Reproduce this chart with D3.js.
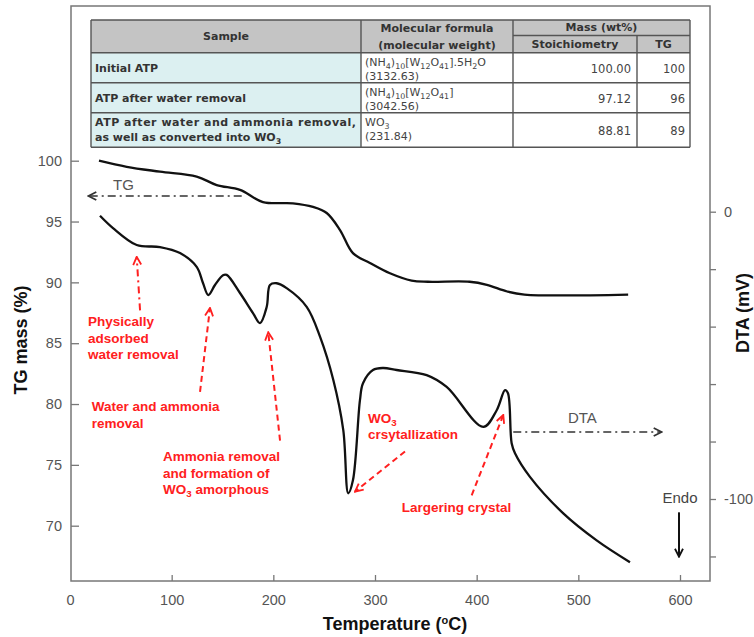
<!DOCTYPE html>
<html>
<head>
<meta charset="utf-8">
<script src="https://cdn.jsdelivr.net/npm/d3@7"></script>
<style>
  body { margin: 0; background: #fff; }
  svg { display: block; font-family: "Liberation Sans", Arial, sans-serif; }
</style>
</head>
<body>
<script>
// TG curve (temperature in °C, mass in %)
var tgTemp = [28.5, 55.8, 88.5, 124.6, 144.3, 167.2, 189.8, 219.3, 239, 252.5, 265.6, 278.3, 295, 314.7, 336, 352, 393, 410, 430, 447, 549];
var tgMass = [100, 99.5, 99.1, 98.7, 98.0, 97.6, 96.6, 96.5, 96.2, 95.7, 94.3, 92.4, 91.6, 90.75, 90.15, 90.05, 90.05, 89.8, 89.25, 89.0, 89.0];

// DTA curve (temperature in °C, signal in mV)
var dtaTemp = [29.5, 42.3, 65.6, 88.5, 108.2, 124.6, 130.8, 136, 142.6, 150.5, 154.1, 167.2, 180, 186.9, 193.5, 196.7, 203.3, 213.1, 232.8, 246, 259, 268.8, 273.7, 278.3, 285.2, 288.2, 298, 307.9, 321.3, 350.8, 370.5, 406.5, 419.7, 427.9, 430.8, 434.4, 437.7, 452.4, 485.2, 518, 550.8];
var dtaSignal = [-1.4, -5.7, -11.6, -12.3, -14.4, -19.2, -24.8, -29.0, -25.5, -22.1, -22.0, -28.3, -35.3, -38.8, -33.1, -25.5, -24.9, -26.6, -33.1, -43.6, -58.6, -76.0, -98.0, -93.5, -65.6, -59.7, -55.1, -54.4, -55.1, -56.9, -61.0, -74.9, -69.1, -62.1, -63.2, -80.6, -84.1, -92.3, -105.0, -114.4, -122.0];

// axis ticks
var xTicks = [0, 100, 200, 300, 400, 500, 600];
var tgTicks = [70, 75, 80, 85, 90, 95, 100];
var dtaTicks = [0, -20, -40, -60, -80, -100, -120];
var dtaTickLabels = {"0": "0", "-100": "-100"};

// table
var sampleNames = [["Initial ATP"], ["ATP after water removal"], ["ATP after water and ammonia removal,", "as well as converted into WO_{3}"]];
var formulas = ["(NH_{4})_{10}[W_{12}O_{41}].5H_{2}O", "(NH_{4})_{10}[W_{12}O_{41}]", "WO_{3}"];
var molWeights = ["(3132.63)", "(3042.56)", "(231.84)"];
var stoichMass = ["100.00", "97.12", "88.81"];
var tgMassTable = ["100", "96", "89"];

// annotations, [temperature, TG %]
var redNotes = [
  {lines: ["Physically", "adsorbed", "water removal"], at: [17.7, 86.4], tail: [68.9, 87.7], head: [65.6, 92.1], dash: "7,4,2,4"},
  {lines: ["Water and ammonia", "removal"], at: [21.3, 79.4], tail: [127.9, 81.0], head: [137.7, 87.9], dash: "6,4"},
  {lines: ["Ammonia removal", "and formation of", "WO_{3} amorphous"], at: [91.5, 75.3], tail: [206.6, 77.0], head: [195, 85.9], dash: "6,4"},
  {lines: ["WO_{3}", "crsytallization"], at: [293.1, 78.45], tail: [329.5, 76.1], head: [280.3, 72.8], dash: "6,4"},
  {lines: ["Largering crystal"], at: [326.3, 71.16], tail: [395.1, 72.5], head: [426.2, 79.1], dash: "6,4"}
];

var W = 754, H = 637;
var x = d3.scaleLinear().domain([0, 600]).range([70, 680]);
var yTG = d3.scaleLinear().domain([70, 100]).range([525.7, 160.7]);
var yDTA = d3.scaleLinear().domain([-100, 0]).range([499, 211.7]);
var frame = {left: 71, right: 710, top: 6, bottom: 581};

var svg = d3.select("body").append("svg").attr("width", W).attr("height", H);

var defs = svg.append("defs");
function chevron(id, color) {
  defs.append("marker").attr("id", id)
    .attr("viewBox", "0 0 10 10").attr("refX", 9).attr("refY", 5)
    .attr("markerWidth", 10).attr("markerHeight", 10)
    .attr("markerUnits", "userSpaceOnUse").attr("orient", "auto")
    .append("path").attr("d", "M1,1 L9,5 L1,9")
    .attr("fill", "none").attr("stroke", color).attr("stroke-width", 1.8);
}
chevron("redArrow", "#ff2020");
chevron("blackArrow", "#333");
chevron("endoArrow", "#111");

// subscript helper: "WO_{3}" -> WO + sub 3
function rich(textSel, str) {
  var parts = str.split(/_\{([^}]*)\}/);
  var shift = 0;
  parts.forEach(function(p, i) {
    if (p === "") return;
    if (i % 2 === 1) {
      textSel.append("tspan").attr("dy", 3 - shift).attr("font-size", "0.72em").text(p);
      shift = 3;
    } else {
      var ts = textSel.append("tspan").text(p);
      if (shift) ts.attr("dy", -shift);
      shift = 0;
    }
  });
}

// frame
svg.append("rect")
  .attr("x", frame.left).attr("y", frame.top)
  .attr("width", frame.right - frame.left).attr("height", frame.bottom - frame.top)
  .attr("fill", "none").attr("stroke", "#777").attr("stroke-width", 1.5);

// axes
var axisColor = "#777", labelColor = "#555";
var gx = svg.append("g").attr("transform", "translate(0," + frame.bottom + ")")
  .call(d3.axisBottom(x).tickValues(xTicks).tickSize(-6).tickPadding(14));
var gl = svg.append("g").attr("transform", "translate(" + frame.left + ",0)")
  .call(d3.axisLeft(yTG).tickValues(tgTicks).tickSize(-8).tickPadding(9));
var gr = svg.append("g").attr("transform", "translate(" + frame.right + ",0)")
  .call(d3.axisRight(yDTA).tickValues(dtaTicks).tickSize(6).tickPadding(8)
    .tickFormat(function(d) { return dtaTickLabels[String(d)] || ""; }));
[gx, gl, gr].forEach(function(g) {
  g.select(".domain").remove();
  g.selectAll(".tick line").attr("stroke", axisColor).attr("stroke-width", 1.3);
  g.selectAll(".tick text").attr("fill", labelColor).attr("font-size", 14.5)
    .attr("font-family", "Liberation Sans, Arial, sans-serif");
});
gx.selectAll(".tick").filter(function(d) { return d === 0; }).select("line").remove();
gr.selectAll(".tick text").filter(function() { return this.textContent === ""; }).remove();

// axis titles
svg.append("text").attr("transform", "translate(27,340) rotate(-90)")
  .attr("text-anchor", "middle").attr("font-size", 18).attr("font-weight", "bold").attr("fill", "#111")
  .text("TG mass (%)");
svg.append("text").attr("transform", "translate(749,313) rotate(-90)")
  .attr("text-anchor", "middle").attr("font-size", 18).attr("font-weight", "bold").attr("fill", "#111")
  .text("DTA (mV)");
var xt = svg.append("text").attr("x", 395).attr("y", 630)
  .attr("text-anchor", "middle").attr("font-size", 18).attr("font-weight", "bold").attr("fill", "#111");
xt.append("tspan").text("Temperature (");
xt.append("tspan").attr("dy", -6).attr("font-size", 11).text("o");
xt.append("tspan").attr("dy", 6).text("C)");

// curves
var tgData = tgTemp.map(function(t, i) { return [t, tgMass[i]]; });
var dtaData = dtaTemp.map(function(t, i) { return [t, dtaSignal[i]]; });
svg.append("path").datum(tgData)
  .attr("d", d3.line().curve(d3.curveCatmullRom.alpha(0.5))
    .x(function(d) { return x(d[0]); }).y(function(d) { return yTG(d[1]); }))
  .attr("fill", "none").attr("stroke", "#111").attr("stroke-width", 2.3).attr("stroke-linejoin", "round");
svg.append("path").datum(dtaData)
  .attr("d", d3.line().curve(d3.curveCatmullRom.alpha(0.5))
    .x(function(d) { return x(d[0]); }).y(function(d) { return yDTA(d[1]); }))
  .attr("fill", "none").attr("stroke", "#111").attr("stroke-width", 2.3).attr("stroke-linejoin", "round");

// red annotations
redNotes.forEach(function(n) {
  svg.append("line")
    .attr("x1", x(n.tail[0])).attr("y1", yTG(n.tail[1]))
    .attr("x2", x(n.head[0])).attr("y2", yTG(n.head[1]))
    .attr("stroke", "#ff2020").attr("stroke-width", 2).attr("stroke-dasharray", n.dash)
    .attr("marker-end", "url(#redArrow)");
  n.lines.forEach(function(l, i) {
    var t = svg.append("text").attr("x", x(n.at[0])).attr("y", yTG(n.at[1]) + i * 16.5)
      .attr("font-size", 13.5).attr("font-weight", "bold").attr("fill", "#ff2020");
    rich(t, l);
  });
});

// TG / DTA direction arrows
svg.append("line").attr("x1", x(168.9)).attr("y1", yTG(97.1)).attr("x2", x(18)).attr("y2", yTG(97.1))
  .attr("stroke", "#333").attr("stroke-width", 1.6).attr("stroke-dasharray", "8,4,2,4")
  .attr("marker-end", "url(#blackArrow)");
svg.append("text").attr("x", x(42.3)).attr("y", yTG(97.6)).attr("font-size", 15).attr("fill", "#555").text("TG");
svg.append("line").attr("x1", x(436)).attr("y1", yTG(77.7)).attr("x2", x(582)).attr("y2", yTG(77.7))
  .attr("stroke", "#333").attr("stroke-width", 1.6).attr("stroke-dasharray", "8,4,2,4")
  .attr("marker-end", "url(#blackArrow)");
svg.append("text").attr("x", x(489.8)).attr("y", yTG(78.45)).attr("font-size", 15).attr("fill", "#555").text("DTA");

// Endo arrow
svg.append("text").attr("x", x(600)).attr("y", yTG(71.9)).attr("text-anchor", "middle")
  .attr("font-size", 15).attr("fill", "#444").text("Endo");
svg.append("line").attr("x1", x(599)).attr("y1", yTG(71.1)).attr("x2", x(599)).attr("y2", yTG(67.45))
  .attr("stroke", "#111").attr("stroke-width", 2).attr("marker-end", "url(#endoArrow)");

// table
var cols = [91, 361, 513, 637, 690];
var rowsY = [20, 52.7, 82.7, 112.7, 147.3];
var tbl = svg.append("g").attr("font-family", "DejaVu Sans, Verdana, sans-serif").attr("fill", "#333");
var border = "#555";

tbl.append("rect").attr("x", cols[0]).attr("y", rowsY[0]).attr("width", cols[4] - cols[0]).attr("height", rowsY[1] - rowsY[0])
  .attr("fill", "#c4c4c4");
tbl.selectAll("rect.body").data(sampleNames).enter().append("rect")
  .attr("x", cols[0]).attr("y", function(d, i) { return rowsY[i + 1]; })
  .attr("width", cols[1] - cols[0]).attr("height", function(d, i) { return rowsY[i + 2] - rowsY[i + 1]; })
  .attr("fill", "#dcf0f1");
tbl.selectAll("rect.white").data(sampleNames).enter().append("rect")
  .attr("x", cols[1]).attr("y", function(d, i) { return rowsY[i + 1]; })
  .attr("width", cols[4] - cols[1]).attr("height", function(d, i) { return rowsY[i + 2] - rowsY[i + 1]; })
  .attr("fill", "#fff");

// grid lines
rowsY.forEach(function(yv) {
  tbl.append("line").attr("x1", cols[0]).attr("x2", cols[4]).attr("y1", yv).attr("y2", yv)
    .attr("stroke", border).attr("stroke-width", 1.4);
});
tbl.append("line").attr("x1", cols[2]).attr("x2", cols[4]).attr("y1", 35.5).attr("y2", 35.5)
  .attr("stroke", border).attr("stroke-width", 1.4);
cols.forEach(function(xv, i) {
  var y0 = (i === 3) ? 35.5 : rowsY[0];
  tbl.append("line").attr("x1", xv).attr("x2", xv).attr("y1", y0).attr("y2", rowsY[4])
    .attr("stroke", border).attr("stroke-width", 1.4);
});

// header text
var hdr = [
  {t: "Sample", x: (cols[0] + cols[1]) / 2, y: 40},
  {t: "Molecular formula", x: (cols[1] + cols[2]) / 2, y: 32},
  {t: "(molecular weight)", x: (cols[1] + cols[2]) / 2, y: 48.5},
  {t: "Mass (wt%)", x: (cols[2] + cols[4]) / 2, y: 31},
  {t: "Stoichiometry", x: (cols[2] + cols[3]) / 2, y: 48},
  {t: "TG", x: (cols[3] + cols[4]) / 2, y: 48}
];
hdr.forEach(function(h) {
  tbl.append("text").attr("x", h.x).attr("y", h.y).attr("text-anchor", "middle")
    .attr("font-size", 11).attr("font-weight", "bold").attr("fill", "#333").text(h.t);
});

sampleNames.forEach(function(lines, i) {
  var top = rowsY[i + 1], bot = rowsY[i + 2], mid = (top + bot) / 2;
  lines.forEach(function(l, j) {
    var yy = lines.length === 1 ? mid + 4 : top + 13 + j * 15.5;
    var t = tbl.append("text").attr("x", cols[0] + 4).attr("y", yy)
      .attr("font-size", 11).attr("font-weight", "bold").attr("fill", "#333");
    if (lines.length > 1 && j === 0) t.attr("textLength", cols[1] - cols[0] - 9).attr("lengthAdjust", "spacing");
    rich(t, l);
  });
  var f = tbl.append("text").attr("x", cols[1] + 4).attr("y", top + 13)
    .attr("font-size", 11).attr("fill", "#444");
  rich(f, formulas[i]);
  tbl.append("text").attr("x", cols[1] + 4).attr("y", top + 27)
    .attr("font-size", 11).attr("fill", "#444").text(molWeights[i]);
  tbl.append("text").attr("x", cols[3] - 6).attr("y", mid + 5).attr("text-anchor", "end")
    .attr("font-size", 11.5).attr("fill", "#444").text(stoichMass[i]);
  tbl.append("text").attr("x", cols[4] - 5).attr("y", mid + 5).attr("text-anchor", "end")
    .attr("font-size", 11.5).attr("fill", "#444").text(tgMassTable[i]);
});
</script>
</body>
</html>
